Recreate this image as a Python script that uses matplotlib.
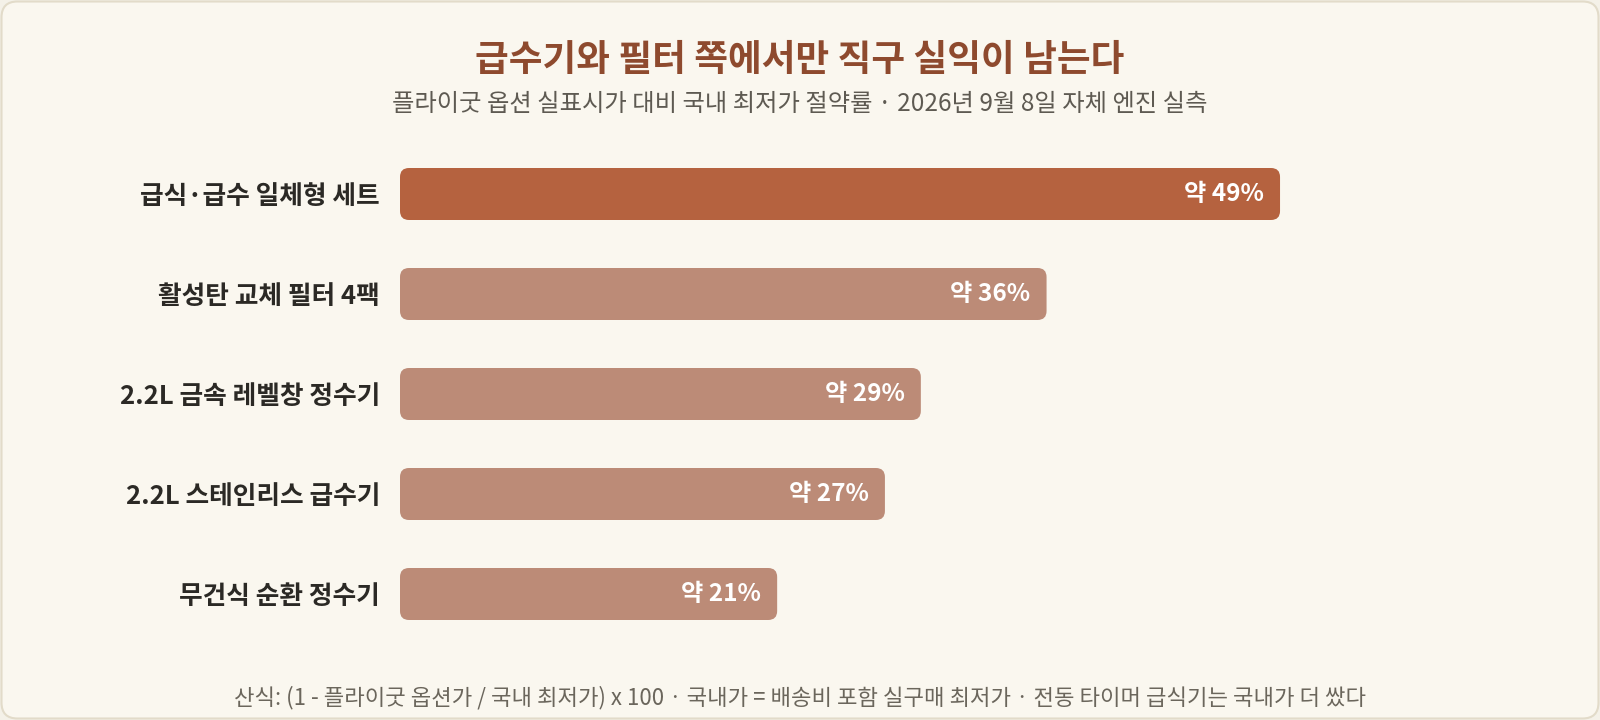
import numpy as np
import matplotlib
matplotlib.use('Agg')
import matplotlib.pyplot as plt
from matplotlib.patches import FancyBboxPatch

plt.rcParams['font.family'] = ['Noto Sans CJK KR', 'DejaVu Sans']

# 데이터
항목 = ['급식·급수 일체형 세트', '활성탄 교체 필터 4팩', '2.2L 금속 레벨창 정수기',
       '2.2L 스테인리스 급수기', '무건식 순환 정수기']
절약률 = [49, 36, 29, 27, 21]
값_라벨 = ['약 49%', '약 36%', '약 29%', '약 27%', '약 21%']

제목 = '급수기와 필터 쪽에서만 직구 실익이 남는다'
부제 = '플라이굿 옵션 실표시가 대비 국내 최저가 절약률 · 2026년 9월 8일 자체 엔진 실측'
각주 = '산식: (1 - 플라이굿 옵션가 / 국내 최저가) x 100 · 국내가 = 배송비 포함 실구매 최저가 · 전동 타이머 급식기는 국내가 더 쌌다'

배경 = '#FAF7EF'
강조색 = '#B5623F'
기본색 = '#BC8B77'

W, H = 1600, 720
fig = plt.figure(figsize=(16, 7.2), dpi=100)
fig.patch.set_facecolor('#F4F1E8')

# 바깥 카드 테두리
카드 = FancyBboxPatch((1.5 / W, 1.5 / H), 1 - 3 / W, 1 - 3 / H,
                    boxstyle='round,pad=0,rounding_size=0.01',
                    mutation_aspect=W / H,
                    transform=fig.transFigure, facecolor=배경,
                    edgecolor='#E2DBC9', linewidth=1.5, zorder=-10)
fig.patches.append(카드)

# 축: x 0 -> 400px, 1% = 17.96px
ax = fig.add_axes([400 / W, (H - 644) / H, 1120 / W, 500 / H])
ax.set_zorder(5)
ax.set_facecolor('none')
xmax = 1120 / 17.96
ax.set_xlim(0, xmax)
ax.set_ylim(len(항목) - 0.5, -0.5)

px_x = 17.96   # x 1단위 당 픽셀
px_y = 100.0   # y 1단위 당 픽셀
막대높이 = 0.52
반경 = 9 / px_x

for i, v in enumerate(절약률):
    색 = 강조색 if i == 0 else 기본색
    p = FancyBboxPatch((0, i - 막대높이 / 2), v, 막대높이,
                       boxstyle=f'round,pad=0,rounding_size={반경}',
                       mutation_aspect=px_x / px_y,
                       facecolor=색, edgecolor='none')
    ax.add_patch(p)
    ax.annotate(값_라벨[i], xy=(v, i), xytext=(-16, 0), textcoords='offset pixels',
                ha='right', va='center', color='white', fontsize=17.5,
                fontweight='bold')

ax.set_yticks(range(len(항목)))
ax.set_yticklabels(항목, fontsize=18.5, fontweight='bold', color='#2B2925')
ax.tick_params(axis='y', length=0, pad=14.4)
ax.set_xticks([])
for s in ax.spines.values():
    s.set_visible(False)

fig.text(0.5, 1 - 60 / H, 제목, ha='center', va='center', fontsize=26.4,
         fontweight='bold', color='#8E4A2E')
fig.text(0.5, 1 - 104 / H, 부제, ha='center', va='center', fontsize=17.5,
         color='#5E5A52')
fig.text(0.5, 1 - 698 / H, 각주, ha='center', va='center', fontsize=16,
         color='#6B665C')

fig.savefig('out.png', dpi=100, facecolor=fig.get_facecolor())
